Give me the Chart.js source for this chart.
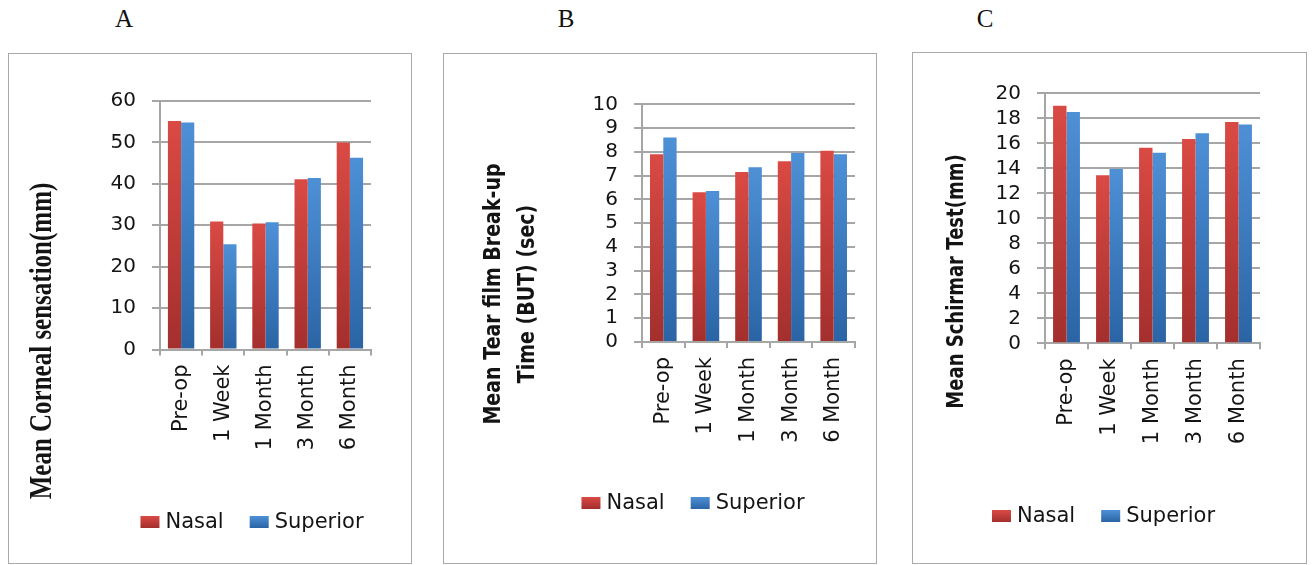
<!DOCTYPE html>
<html>
<head>
<meta charset="utf-8">
<script src="https://cdn.jsdelivr.net/npm/chart.js@4.4.1/dist/chart.umd.min.js"></script>
<style>
  html, body { margin: 0; padding: 0; background: #fff; }
  body { width: 1314px; height: 565px; position: relative; overflow: hidden; }
  .panel { position: absolute; }
  .panel canvas { position: absolute; left: 0; top: 0; }
  .frame { position: absolute; border: 1.5px solid #aaaaaa; box-sizing: border-box; pointer-events: none; }
  .tag { position: absolute; top: 5px; font: 25px "Liberation Serif", "Times New Roman", serif; color: #111; transform: translateX(-50%); }
</style>
</head>
<body>
<div class="tag" style="left:124px">A</div>
<div class="tag" style="left:566px">B</div>
<div class="tag" style="left:985px">C</div>

<script>
// Follow-up time points and the two measurement sites
const categories = ['Pre-op', '1 Week', '1 Month', '3 Month', '6 Month'];
const seriesNames = ['Nasal', 'Superior'];

// A: mean corneal sensation (mm)
const cornealNasal    = [55.2, 30.9, 30.4, 41.1, 50.0];
const cornealSuperior = [54.8, 25.4, 30.7, 41.4, 46.3];

// B: mean tear film break-up time (sec)
const butNasal    = [7.9, 6.3, 7.15, 7.6, 8.05];
const butSuperior = [8.6, 6.35, 7.35, 7.95, 7.9];

// C: mean Schirmer test (mm)
const schirmerNasal    = [19.0, 13.45, 15.65, 16.35, 17.7];
const schirmerSuperior = [18.5, 13.95, 15.25, 16.8, 17.5];

// Value axis ranges: [max, step]
const cornealAxis  = [60, 10];
const butAxis      = [10, 1];
const schirmerAxis = [20, 2];

const SANS = '"DejaVu Sans", "Open Sans", sans-serif';
const GRID = '#a6a6a6';
const TEXT = '#141414';
const seriesShades = [
  ['#da4a44', '#a32f2d'],   // Nasal
  ['#4e90d6', '#2a64a5']    // Superior
];

// Vertical gradient running from each bar's top down to the baseline
function barFill(shade) {
  return (ctx) => {
    const chart = ctx.chart;
    if (ctx.type !== 'data' || !chart.chartArea) return shade[0];
    const ys = chart.scales.y;
    const y0 = ys.getPixelForValue(ctx.raw);
    const y1 = ys.getPixelForValue(0);
    const g = chart.ctx.createLinearGradient(0, y0, 0, y1);
    g.addColorStop(0, shade[0]);
    g.addColorStop(1, shade[1]);
    return g;
  };
}

// Rotated value-axis caption, one or more lines
const sideTitle = {
  id: 'sideTitle',
  afterDraw(chart, args, o) {
    const ctx = chart.ctx;
    ctx.save();
    ctx.fillStyle = TEXT;
    ctx.font = o.font;
    ctx.textAlign = 'center';
    ctx.textBaseline = 'middle';
    o.lines.forEach((line, i) => {
      ctx.save();
      ctx.translate(o.x[i], o.y);
      ctx.rotate(-Math.PI / 2);
      ctx.scale(1, o.stretch || 1);
      ctx.fillText(line, 0, 0);
      ctx.restore();
    });
    ctx.restore();
  }
};

// Swatch legend under the plot
const swatchLegend = {
  id: 'swatchLegend',
  afterDraw(chart, args, o) {
    const ctx = chart.ctx;
    const bw = 19, bh = 12, gap = 6, spacing = 26;
    ctx.save();
    ctx.font = o.font;
    ctx.textBaseline = 'middle';
    const items = chart.data.datasets.map((d, i) => ({ label: d.label, shade: seriesShades[i], w: ctx.measureText(d.label).width }));
    let total = 0;
    items.forEach((it, i) => { total += bw + gap + it.w + (i ? spacing : 0); });
    let x = o.cx - total / 2;
    items.forEach((it, i) => {
      if (i) x += spacing;
      const top = o.cy - bh / 2;
      const g = ctx.createLinearGradient(0, top, 0, top + bh);
      g.addColorStop(0, it.shade[0]);
      g.addColorStop(1, it.shade[1]);
      ctx.fillStyle = g;
      ctx.fillRect(x, top, bw, bh);
      ctx.fillStyle = TEXT;
      ctx.fillText(it.label, x + bw + gap, o.cy + 1);
      x += bw + gap + it.w;
    });
    ctx.restore();
  }
};

function makePanel(p) {
  const box = p.box;
  const wrap = document.createElement('div');
  wrap.className = 'panel';
  Object.assign(wrap.style, { left: box.x + 'px', top: box.y + 'px', width: box.w + 'px', height: box.h + 'px' });
  const canvas = document.createElement('canvas');
  canvas.width = box.w;
  canvas.height = box.h;
  canvas.style.width = box.w + 'px';
  canvas.style.height = box.h + 'px';
  wrap.appendChild(canvas);
  document.body.appendChild(wrap);

  const frame = document.createElement('div');
  frame.className = 'frame';
  Object.assign(frame.style, { left: box.x + 'px', top: box.y + 'px', width: box.w + 'px', height: box.h + 'px' });
  document.body.appendChild(frame);

  const left = p.area.l - box.x, right = p.area.r - box.x;
  const top = p.area.t - box.y, bottom = p.area.b - box.y;
  const xHeight = 100;

  new Chart(canvas, {
    type: 'bar',
    data: {
      labels: categories,
      datasets: p.series.map((vals, i) => ({
        label: seriesNames[i],
        data: vals,
        backgroundColor: barFill(seriesShades[i]),
        borderWidth: 0,
        categoryPercentage: 0.625,
        barPercentage: 1.0
      }))
    },
    options: {
      responsive: false,
      animation: false,
      devicePixelRatio: 1,
      layout: { padding: { left: 0, right: box.w - right, top: top, bottom: box.h - bottom - xHeight } },
      plugins: {
        legend: { display: false },
        tooltip: { enabled: false },
        sideTitle: p.title,
        swatchLegend: { font: '21px ' + SANS, cx: p.legend.cx - box.x, cy: p.legend.cy - box.y }
      },
      scales: {
        x: {
          grid: { offset: true, drawOnChartArea: false, drawTicks: true, tickLength: 6, color: GRID, lineWidth: 2 },
          border: { color: GRID, width: 2 },
          ticks: { autoSkip: false, minRotation: 90, maxRotation: 90, padding: 9, color: TEXT, font: { family: SANS, size: 21 } },
          afterFit: (s) => { s.height = xHeight; }
        },
        y: {
          min: 0,
          max: p.axis[0],
          grid: { color: GRID, lineWidth: 2, tickLength: 8 },
          border: { color: GRID, width: 2 },
          ticks: { stepSize: p.axis[1], autoSkip: false, padding: 16, color: TEXT, font: { family: SANS, size: 20 } },
          afterFit: (s) => { s.width = left; }
        }
      }
    },
    plugins: [sideTitle, swatchLegend]
  });
}

makePanel({
  box: { x: 8, y: 53, w: 404, h: 511 },
  area: { l: 160, r: 371, t: 101, b: 349.5 },
  axis: cornealAxis,
  series: [cornealNasal, cornealSuperior],
  title: { lines: ['Mean Corneal sensation(mm)'], font: 'bold 25px "Liberation Serif", serif', x: [43 - 8], y: 341 - 53, stretch: 1.25 },
  legend: { cx: 252, cy: 522 }
});

makePanel({
  box: { x: 443, y: 53, w: 434, h: 511 },
  area: { l: 642, r: 855, t: 104.3, b: 342 },
  axis: butAxis,
  series: [butNasal, butSuperior],
  title: { lines: ['Mean Tear film Break-up', 'Time (BUT) (sec)'], font: 'bold 19px ' + SANS, x: [494 - 443, 528 - 443], y: 294 - 53, stretch: 1.25 },
  legend: { cx: 693, cy: 503 }
});

makePanel({
  box: { x: 912, y: 52, w: 395, h: 512 },
  area: { l: 1045, r: 1260, t: 93.3, b: 343.3 },
  axis: schirmerAxis,
  series: [schirmerNasal, schirmerSuperior],
  title: { lines: ['Mean Schirmar Test(mm)'], font: 'bold 18px ' + SANS, x: [957 - 912], y: 281.5 - 52, stretch: 1.25 },
  legend: { cx: 1103.5, cy: 516 }
});
</script>
</body>
</html>
